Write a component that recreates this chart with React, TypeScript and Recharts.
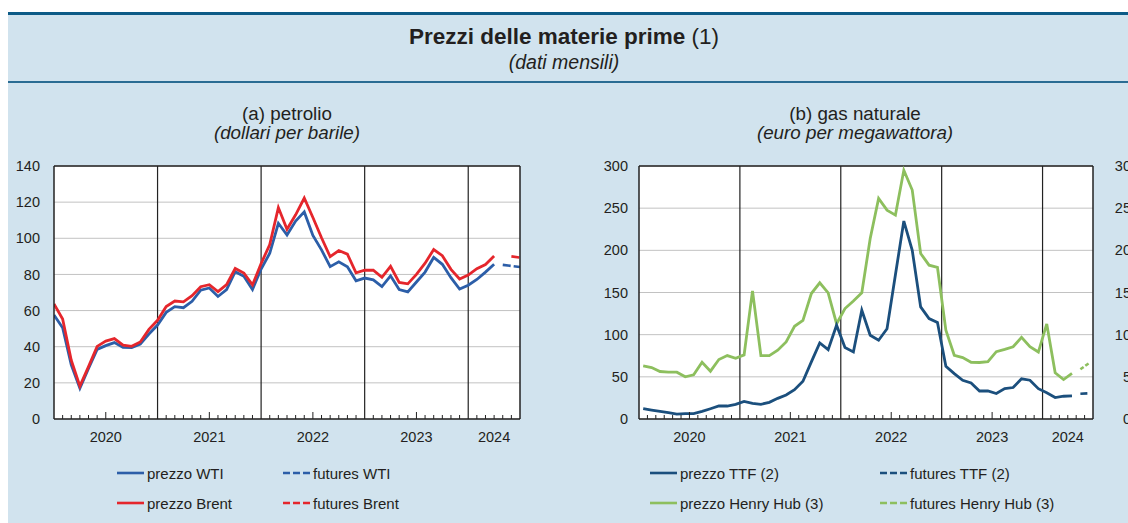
import React from 'react';
import { LineChart, Line, XAxis, YAxis, CartesianGrid, ReferenceLine } from 'recharts';

const FONT = '"Liberation Sans", Arial, Helvetica, sans-serif';
const TEXT = '#231f20';
const BG = '#d1e3ee';
const C_WTI = '#2c5ea8';
const C_BRENT = '#e5262c';
const C_TTF = '#1b4f7d';
const C_HH = '#8dbf5e';

// months: index 0 = Jan 2020 ... 51 = Apr 2024
const wti = [57.5, 50.5, 30, 17, 28, 38.5, 40.6, 42.3, 39.6, 39.5, 41.5, 47, 52, 59, 62.2, 61.6, 65.1, 71.3, 72.5, 67.8, 71.6, 81.5, 79, 71.7, 83, 91.7, 108.3, 101.8, 109.5, 114.6, 101.6, 93.6, 84.3, 87, 84.2, 76.5, 78, 77, 73.3, 79.2, 71.6, 70.3, 75.8, 81.3, 89.4, 85.6, 78.2, 71.9, 74, 77.2, 81.3, 85.6];
const brent = [63.6, 55.3, 32.5, 18.2, 29, 40.2, 43.1, 44.5, 40.9, 40.2, 42.6, 49.6, 54.6, 62.2, 65.3, 64.8, 68.2, 73.2, 74.3, 70.5, 74.4, 83.3, 80.8, 74.2, 86, 96.5, 117, 105, 113, 122.3, 111.5, 100.3, 89.8, 93.2, 91.2, 80.9, 82.3, 82.3, 78.4, 84.5, 75.6, 74.8, 80, 86.2, 93.8, 90.4, 82.8, 77.5, 79.6, 83.2, 85.5, 90.2];
const wtiFutures = [85.3, 84.7, 84.1];   // months 52..54
const brentFutures = [90.0, 89.3];       // months 53..54

const ttf = [12.2, 10.6, 9, 7.5, 5.9, 6.3, 6.3, 9, 12.2, 15.4, 15.4, 17.3, 20.9, 18.5, 17.4, 19.8, 24.5, 28.5, 34.8, 44.7, 67.7, 90.2, 82.3, 111.2, 84.7, 79.5, 129, 99.3, 93.4, 107, 171, 234.7, 200, 133, 119, 114.4, 62.5, 53.8, 45.9, 42.7, 33.2, 33.2, 30.2, 36, 37.3, 47.6, 46, 36, 31, 25.4, 27, 27.4];
const henryHub = [6.3, 6.1, 5.63, 5.55, 5.55, 5.0, 5.24, 6.73, 5.67, 7.05, 7.52, 7.2, 7.6, 15.2, 7.52, 7.52, 8.15, 9.14, 11.0, 11.7, 14.88, 16.15, 14.96, 11.3, 13.1, 14.0, 14.96, 21.4, 26.16, 24.77, 24.18, 29.5, 27.15, 19.63, 18.24, 17.97, 10.53, 7.56, 7.28, 6.73, 6.7, 6.8, 7.98, 8.25, 8.57, 9.68, 8.57, 7.94, 11.27, 5.48, 4.68, 5.4];
const ttfFutures = [30.0, 30.5];         // months 52..53
const henryHubFutures = [5.9, 6.6];      // months 52..53

const yearLabels = ['2020', '2021', '2022', '2023', '2024'];
const yearLabelAt = [6, 18, 30, 42, 51];
const yearBreaks = [12, 24, 36, 48];
const oilTicks = [0, 20, 40, 60, 80, 100, 120, 140];
const gasTicks = [0, 50, 100, 150, 200, 250, 300];
const hhTicks = [0, 5, 10, 15, 20, 25, 30];
const monthTicks = Array.from({ length: 55 }, (_, i) => i);

const oilData = monthTicks.map((m) => ({
  m,
  wti: m < wti.length ? wti[m] : null,
  brent: m < brent.length ? brent[m] : null,
  wtiF: m >= 52 ? wtiFutures[m - 52] : null,
  brentF: m >= 53 ? brentFutures[m - 53] : null,
}));

const gasData = monthTicks.slice(0, 54).map((i) => ({
  m: i + 0.5,
  ttf: i < ttf.length ? ttf[i] : null,
  hh: i < henryHub.length ? henryHub[i] : null,
  ttfF: i >= 52 ? ttfFutures[i - 52] : null,
  hhF: i >= 52 ? henryHubFutures[i - 52] : null,
}));

const MonthTick = (props: any) => {
  const { x, y, payload } = props;
  const v = payload.value;
  const li = yearLabelAt.indexOf(v);
  const showTick = v % 12 !== 0 && v !== 54;
  const h = v % 12 === 6 ? 7 : 4;
  return (
    <g>
      {showTick && <line x1={x} x2={x} y1={y} y2={y - h} stroke="#222" strokeWidth={1} />}
      {li >= 0 && (
        <text x={x} y={y + 23} textAnchor="middle" fontSize={14.5} fill={TEXT} fontFamily={FONT}>
          {yearLabels[li]}
        </text>
      )}
    </g>
  );
};

const tickStyle = { fill: TEXT, fontSize: 14.5, fontFamily: FONT };
const tickStyleEnd = { fill: TEXT, fontSize: 14.5, fontFamily: FONT, textAnchor: 'end' };

const LegendItem = ({ x, y, color, dashed, label }: any) => (
  <div style={{ position: 'absolute', left: x, top: y - 10, height: 20, display: 'flex', alignItems: 'center', whiteSpace: 'nowrap' }}>
    <svg width={29} height={6} style={{ display: 'block' }}>
      <line x1={0} x2={27} y1={3} y2={3} stroke={color} strokeWidth={2.6} strokeDasharray={dashed ? '7 3' : undefined} />
    </svg>
    <span style={{ fontSize: 15, fontFamily: FONT, color: TEXT, marginLeft: 1 }}>{label}</span>
  </div>
);

export default function App() {
  return (
    <div style={{ position: 'relative', width: 1128, height: 523, overflow: 'hidden', background: '#fff', fontFamily: FONT }}>
      <style>{'body{margin:0}'}</style>
      <div style={{ position: 'absolute', left: 8, top: 12, right: 0, bottom: 0, background: BG }} />
      <div style={{ position: 'absolute', left: 8, top: 12, right: 0, height: 3, background: '#0d5b87' }} />
      <div style={{ position: 'absolute', left: 8, top: 81, right: 0, height: 2, background: '#2a6c93' }} />
      <div style={{ position: 'absolute', left: 0, width: 1128, top: 24, textAlign: 'center', fontSize: 22.5, color: TEXT, lineHeight: '26px' }}>
        <b>Prezzi delle materie prime</b> (1)
      </div>
      <div style={{ position: 'absolute', left: 0, width: 1128, top: 51, textAlign: 'center', fontSize: 19.5, fontStyle: 'italic', color: TEXT, lineHeight: '22px' }}>
        (dati mensili)
      </div>
      <div style={{ position: 'absolute', left: 137, width: 300, top: 104, textAlign: 'center', fontSize: 18.8, color: TEXT, lineHeight: '20px' }}>
        (a) petrolio
      </div>
      <div style={{ position: 'absolute', left: 137, width: 300, top: 123, textAlign: 'center', fontSize: 18.8, fontStyle: 'italic', color: TEXT, lineHeight: '20px' }}>
        (dollari per barile)
      </div>
      <div style={{ position: 'absolute', left: 705, width: 300, top: 104, textAlign: 'center', fontSize: 18.8, color: TEXT, lineHeight: '20px' }}>
        (b) gas naturale
      </div>
      <div style={{ position: 'absolute', left: 705, width: 300, top: 123, textAlign: 'center', fontSize: 18.8, fontStyle: 'italic', color: TEXT, lineHeight: '20px' }}>
        (euro per megawattora)
      </div>

      <div style={{ position: 'absolute', left: 0, top: 150 }}>
        <LineChart width={580} height={309} data={oilData} margin={{ top: 16, right: 0, bottom: 0, left: 0 }}>
          <CartesianGrid yAxisId="l" vertical={false} stroke="#c2c2c2" fill="#ffffff" />
          <XAxis dataKey="m" type="number" domain={[0, 54]} ticks={monthTicks} interval={0} tickSize={0} tickMargin={0}
            tickLine={false} axisLine={{ stroke: '#222', strokeWidth: 1.5 }} height={40} tick={MonthTick} allowDataOverflow />
          <YAxis yAxisId="l" domain={[0, 140]} ticks={oilTicks} interval={0} width={54} tickSize={0} tickMargin={14}
            tickLine={false} axisLine={{ stroke: '#222', strokeWidth: 1.5 }} tick={tickStyle} />
          <YAxis yAxisId="r" orientation="right" domain={[0, 140]} ticks={oilTicks} interval={0} width={60} tickSize={0} tickMargin={40}
            tickLine={false} axisLine={{ stroke: '#222', strokeWidth: 1.5 }} tick={tickStyleEnd} />
          <ReferenceLine yAxisId="l" y={140} stroke="#222" strokeWidth={1.5} />
          {yearBreaks.map((b) => (
            <ReferenceLine key={b} yAxisId="l" x={b} stroke="#222" strokeWidth={1.2} />
          ))}
          <Line yAxisId="l" dataKey="wti" stroke={C_WTI} strokeWidth={2.8} dot={false} isAnimationActive={false} />
          <Line yAxisId="l" dataKey="brent" stroke={C_BRENT} strokeWidth={2.8} dot={false} isAnimationActive={false} />
          <Line yAxisId="l" dataKey="wtiF" stroke={C_WTI} strokeWidth={2.6} strokeDasharray="8 3" dot={false} isAnimationActive={false} />
          <Line yAxisId="l" dataKey="brentF" stroke={C_BRENT} strokeWidth={2.6} strokeDasharray="8 3" dot={false} isAnimationActive={false} />
        </LineChart>
      </div>

      <div style={{ position: 'absolute', left: 579, top: 150 }}>
        <LineChart width={574} height={309} data={gasData} margin={{ top: 16, right: 0, bottom: 0, left: 0 }}>
          <CartesianGrid yAxisId="l" vertical={false} stroke="#c2c2c2" fill="#ffffff" />
          <XAxis dataKey="m" type="number" domain={[0, 54]} ticks={monthTicks} interval={0} tickSize={0} tickMargin={0}
            tickLine={false} axisLine={{ stroke: '#222', strokeWidth: 1.5 }} height={40} tick={MonthTick} allowDataOverflow />
          <YAxis yAxisId="l" domain={[0, 300]} ticks={gasTicks} interval={0} width={60} tickSize={0} tickMargin={11}
            tickLine={false} axisLine={{ stroke: '#222', strokeWidth: 1.5 }} tick={tickStyle} />
          <YAxis yAxisId="r" orientation="right" domain={[0, 30]} ticks={hhTicks} interval={0} width={60} tickSize={0} tickMargin={38}
            tickLine={false} axisLine={{ stroke: '#222', strokeWidth: 1.5 }} tick={tickStyleEnd} />
          <ReferenceLine yAxisId="l" y={300} stroke="#222" strokeWidth={1.5} />
          {yearBreaks.map((b) => (
            <ReferenceLine key={b} yAxisId="l" x={b} stroke="#222" strokeWidth={1.2} />
          ))}
          <Line yAxisId="r" dataKey="hh" stroke={C_HH} strokeWidth={2.8} dot={false} isAnimationActive={false} />
          <Line yAxisId="l" dataKey="ttf" stroke={C_TTF} strokeWidth={2.8} dot={false} isAnimationActive={false} />
          <Line yAxisId="r" dataKey="hhF" stroke={C_HH} strokeWidth={2.6} strokeDasharray="4 2" dot={false} isAnimationActive={false} />
          <Line yAxisId="l" dataKey="ttfF" stroke={C_TTF} strokeWidth={2.6} strokeDasharray="7 10" dot={false} isAnimationActive={false} />
        </LineChart>
      </div>

      <LegendItem x={117} y={473} color={C_WTI} label="prezzo WTI" />
      <LegendItem x={283} y={473} color={C_WTI} dashed label="futures WTI" />
      <LegendItem x={117} y={503} color={C_BRENT} label="prezzo Brent" />
      <LegendItem x={283} y={503} color={C_BRENT} dashed label="futures Brent" />
      <LegendItem x={650} y={473} color={C_TTF} label="prezzo TTF (2)" />
      <LegendItem x={880} y={473} color={C_TTF} dashed label="futures TTF (2)" />
      <LegendItem x={650} y={503} color={C_HH} label="prezzo Henry Hub (3)" />
      <LegendItem x={880} y={503} color={C_HH} dashed label="futures Henry Hub (3)" />
    </div>
  );
}
